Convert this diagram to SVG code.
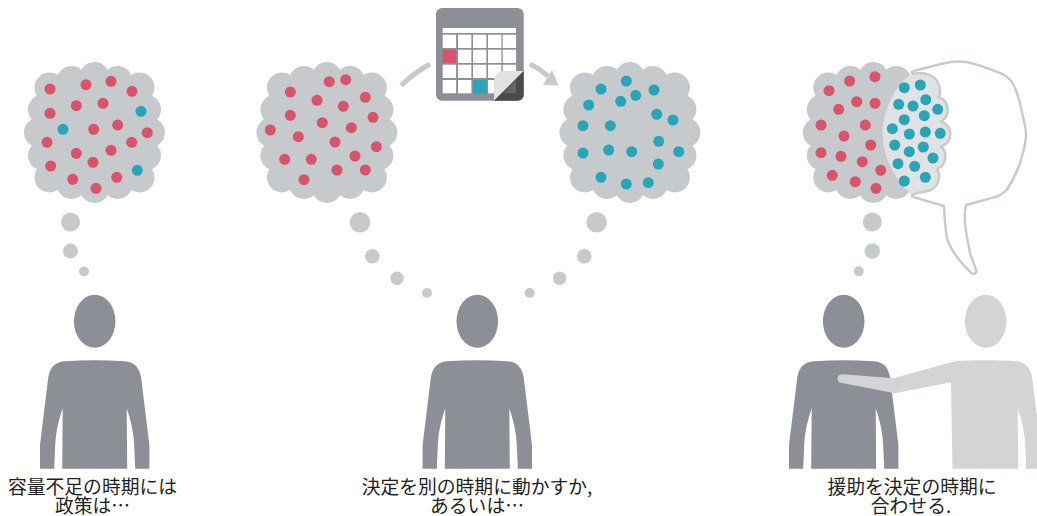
<svg xmlns="http://www.w3.org/2000/svg" xmlns:xlink="http://www.w3.org/1999/xlink" width="1037" height="516" viewBox="0 0 1037 516">
<style>
.c{fill:#c7cacc}
.r{fill:#d9536b}
.t{fill:#29a5b8}
.p{fill:#8c8f95}
.l{fill:#d2d4d6}
.w{fill:#fff}
.a{fill:none;stroke:#c7cacc;stroke-width:5}
.o{stroke:#c7cacc;stroke-width:2.4;stroke-linejoin:round}
text{font-family:"Noto Sans CJK JP","Noto Sans",sans-serif;font-size:18.8px;fill:#231f20;text-anchor:middle}
</style>
<defs>
<g id="cloud" class="c">
<circle r="52"/><circle cy="-55.5" r="15"/><circle cx="-23" cy="-51.5" r="15"/><circle cx="23" cy="-51.5" r="15"/><circle cx="-45" cy="-45" r="15"/><circle cx="45" cy="-45" r="15"/>
<circle cy="55.5" r="15"/><circle cx="-23" cy="51.5" r="15"/><circle cx="23" cy="51.5" r="15"/><circle cx="-45" cy="45" r="15"/><circle cx="45" cy="45" r="15"/>
<circle cx="-55.5" r="15"/><circle cx="-51.5" cy="-23" r="15"/><circle cx="-51.5" cy="23" r="15"/>
<circle cx="55.5" r="15"/><circle cx="51.5" cy="-23" r="15"/><circle cx="51.5" cy="23" r="15"/>
</g>
<g id="person">
<ellipse cy="321.3" rx="20.8" ry="26.5"/>
<path d="M-32.5 468.7L-32 408.3C-36 420-39 432-39.5 445L-40.5 468.7H-54.7V445L-46.5 378C-45 368-40 362-30 361.3C-10 360 10 360 30 361.3C40 362 45 368 46.5 378L54.7 445V468.7H40.5L39.500 445C39 432 36 420 32 408.300L32.500 468.700Z"/>
</g>
</defs>
<g id="connectors">
<path class="a" d="M401 85.5Q414 73 430 64"/>
<path class="a" d="M530 64Q540 69 548 76"/>
<polygon class="c" points="558.5,85.5 543,85 552,70"/>
<circle class="c" cx="70.5" cy="222" r="9.5"/><circle class="c" cx="70.5" cy="251" r="7.5"/><circle class="c" cx="84" cy="271.5" r="5"/>
<circle class="c" cx="360" cy="222.3" r="10.3"/><circle class="c" cx="372.3" cy="256.3" r="7.3"/><circle class="c" cx="397" cy="278.3" r="6.7"/><circle class="c" cx="427" cy="293" r="5"/>
<circle class="c" cx="596.7" cy="222.3" r="10.3"/><circle class="c" cx="584.3" cy="256.3" r="7.3"/><circle class="c" cx="559.7" cy="278.3" r="6.7"/><circle class="c" cx="529.7" cy="293" r="5"/>
<circle class="c" cx="872.3" cy="222" r="9.5"/><circle class="c" cx="872.3" cy="251" r="7.7"/><circle class="c" cx="858.7" cy="271.3" r="5"/>
</g>
<g id="cloud-1">
<use xlink:href="#cloud" href="#cloud" x="94.5" y="132.5"/>
<g class="r"><circle cx="50" cy="89" r="5.5"/><circle cx="86" cy="84.7" r="5.5"/><circle cx="111" cy="81.3" r="5.5"/><circle cx="132" cy="91.3" r="5.5"/><circle cx="76.3" cy="105.7" r="5.5"/><circle cx="103" cy="103.3" r="5.5"/><circle cx="50" cy="113.3" r="5.5"/><circle cx="93.7" cy="129.3" r="5.5"/><circle cx="117.7" cy="125" r="5.5"/><circle cx="147.3" cy="132.7" r="5.5"/><circle cx="47" cy="142.3" r="5.5"/><circle cx="131.7" cy="142.3" r="5.5"/><circle cx="111" cy="150.3" r="5.5"/><circle cx="76.3" cy="153.3" r="5.5"/><circle cx="93" cy="162.3" r="5.5"/><circle cx="50.7" cy="166" r="5.5"/><circle cx="72.7" cy="179.3" r="5.5"/><circle cx="116.7" cy="177.3" r="5.5"/><circle cx="96" cy="188.3" r="5.5"/></g>
<g class="t"><circle cx="141" cy="111.3" r="5.5"/><circle cx="63" cy="129.3" r="5.5"/><circle cx="137.3" cy="170.3" r="5.5"/></g>
</g>
<g id="cloud-2">
<use xlink:href="#cloud" href="#cloud" x="326.9" y="132.5"/>
<g class="r"><circle cx="290.3" cy="92" r="5.5"/><circle cx="329.3" cy="81.7" r="5.5"/><circle cx="345.7" cy="79.7" r="5.5"/><circle cx="365.3" cy="97.3" r="5.5"/><circle cx="317" cy="100.3" r="5.5"/><circle cx="343.3" cy="106.3" r="5.5"/><circle cx="290.3" cy="115.3" r="5.5"/><circle cx="373" cy="117.3" r="5.5"/><circle cx="322.3" cy="122.7" r="5.5"/><circle cx="351.3" cy="127.7" r="5.5"/><circle cx="270.3" cy="130" r="5.5"/><circle cx="298.3" cy="136.7" r="5.5"/><circle cx="335" cy="142" r="5.5"/><circle cx="376.3" cy="146.7" r="5.5"/><circle cx="355" cy="156" r="5.5"/><circle cx="284.7" cy="159.3" r="5.5"/><circle cx="311.3" cy="159.3" r="5.5"/><circle cx="337" cy="170" r="5.5"/><circle cx="365.3" cy="170" r="5.5"/><circle cx="304" cy="179.7" r="5.5"/></g>
</g>
<g id="cloud-3">
<use xlink:href="#cloud" href="#cloud" x="629.9" y="132.5"/>
<g class="t"><circle cx="601" cy="89" r="5.5"/><circle cx="626.3" cy="81" r="5.5"/><circle cx="635.7" cy="95.3" r="5.5"/><circle cx="654" cy="90" r="5.5"/><circle cx="620.7" cy="101.3" r="5.5"/><circle cx="588.7" cy="105" r="5.5"/><circle cx="656.7" cy="114.3" r="5.5"/><circle cx="673" cy="120" r="5.5"/><circle cx="583" cy="125.7" r="5.5"/><circle cx="610.3" cy="125.7" r="5.5"/><circle cx="658.7" cy="141.3" r="5.5"/><circle cx="583" cy="153" r="5.5"/><circle cx="608.7" cy="150" r="5.5"/><circle cx="631.7" cy="151.7" r="5.5"/><circle cx="678.7" cy="151.7" r="5.5"/><circle cx="658.3" cy="164" r="5.5"/><circle cx="601" cy="177.3" r="5.5"/><circle cx="626.3" cy="184" r="5.5"/><circle cx="648.3" cy="182.7" r="5.5"/></g>
</g>
<g id="calendar">
<rect class="p" x="436" y="8" width="87.7" height="92.7" rx="6"/>
<g class="w"><rect x="442.7" y="28" width="73.3" height="5"/>
<rect x="442.7" y="34.7" width="13.4" height="13.3"/><rect x="458" y="34.7" width="13.4" height="13.3"/><rect x="473" y="34.7" width="13.4" height="13.3"/><rect x="488" y="34.7" width="13.4" height="13.3"/><rect x="502.7" y="34.7" width="13.4" height="13.3"/>
<rect x="458" y="49.7" width="13.4" height="13.3"/><rect x="473" y="49.7" width="13.4" height="13.3"/><rect x="488" y="49.7" width="13.4" height="13.3"/><rect x="502.7" y="49.7" width="13.4" height="13.3"/>
<rect x="442.7" y="64.7" width="13.4" height="13.3"/><rect x="458" y="64.7" width="13.4" height="13.3"/><rect x="473" y="64.7" width="13.4" height="13.3"/><rect x="488" y="64.7" width="13.4" height="13.3"/><rect x="502.7" y="64.7" width="13.4" height="13.3"/>
<rect x="442.7" y="80" width="13.4" height="13.3"/><rect x="458" y="80" width="13.4" height="13.3"/><rect x="488" y="80" width="13.4" height="13.3"/><rect x="502.7" y="80" width="13.4" height="13.3"/></g>
<rect class="r" x="442.7" y="49.7" width="13.4" height="13.3"/>
<rect class="t" x="473" y="80" width="13.4" height="13.3"/>
<path fill="#e1e2e3" d="M494 100.7V82Q494 71 505 71H523.7Z"/>
<path fill="#4a4a48" d="M494 100.7L523.7 71V94Q523.7 100.7 517 100.7Z"/>
<path fill="#6b6562" d="M503.5 93.3L516 80.5V93.3Z"/>
</g>
<g id="balloon">
<path class="o" fill="#fff" d="M912 71.7C925 68 935 65 946.7 62.7C953 61.5 960 61 966.7 62C977 64 987 68 996.7 71.7C1003 74 1008 77 1011.7 81.7C1016 88 1018 96 1020 103C1022 113 1025 123 1026 133C1026.500 143 1023 153 1020 163C1017 172 1012 182 1006.700 190C1003 193 1000 195.500 996.700 196.700L966 205C964.500 211 964.500 217 965 223C966 233 968 243 970 253C972 260 975 266 976.700 271.700C976 274 973 274 971.700 273.300C966 268 961 262 956.700 256.700C952 250 948 243 946.700 236.700C945 226 944.500 216 944 206L912 196.700Z"/>
</g>
<g id="cloud-4">
<use xlink:href="#cloud" href="#cloud" x="873.3" y="132.5"/>
<path class="o" fill="#e0e2e3" d="M912 73.500C920 73 938 71 940 90C940.300 93 940 95 938.500 97A13.500 13.500 0 0 1 941 121.500A13 13 0 0 1 941 146.500A13.500 13.500 0 0 1 937 169C941 175 940 190 925 191.500C920 192 915 193.500 912 195"/>
<path fill="#e0e2e3" d="M912 73.500C895 85 883 110 882.700 133C882 155 895 180 912 195Z"/>
<g class="r"><circle cx="829" cy="90.700" r="5.500"/><circle cx="849.700" cy="81" r="5.500"/><circle cx="875" cy="76.700" r="5.500"/><circle cx="856.700" cy="101.700" r="5.500"/><circle cx="875" cy="103.300" r="5.500"/><circle cx="838.700" cy="109.300" r="5.500"/><circle cx="821" cy="125" r="5.500"/><circle cx="865.300" cy="125" r="5.500"/><circle cx="844" cy="136" r="5.500"/><circle cx="870.700" cy="145" r="5.500"/><circle cx="821" cy="152.700" r="5.500"/><circle cx="841" cy="156.300" r="5.500"/><circle cx="862.300" cy="161.700" r="5.500"/><circle cx="880.700" cy="170.300" r="5.500"/><circle cx="832.300" cy="175.300" r="5.500"/><circle cx="855.300" cy="181.700" r="5.500"/><circle cx="876" cy="188.300" r="5.500"/></g>
<g class="t"><circle cx="904.300" cy="87.700" r="5.500"/><circle cx="920.300" cy="85" r="5.500"/><circle cx="925.700" cy="99.700" r="5.500"/><circle cx="898.700" cy="104.300" r="5.500"/><circle cx="913" cy="106" r="5.500"/><circle cx="937.700" cy="109.300" r="5.500"/><circle cx="924.300" cy="115.700" r="5.500"/><circle cx="904.300" cy="119.700" r="5.500"/><circle cx="892.300" cy="128.700" r="5.500"/><circle cx="909.300" cy="134" r="5.500"/><circle cx="925.300" cy="132" r="5.500"/><circle cx="940.300" cy="133.300" r="5.500"/><circle cx="894.700" cy="145" r="5.500"/><circle cx="923.300" cy="147" r="5.500"/><circle cx="909.300" cy="151.700" r="5.500"/><circle cx="933" cy="158" r="5.500"/><circle cx="898" cy="163.700" r="5.500"/><circle cx="914.700" cy="166.300" r="5.500"/><circle cx="925.300" cy="177.300" r="5.500"/><circle cx="904.300" cy="181" r="5.500"/></g>
</g>
<g id="person-1" class="p"><use xlink:href="#person" href="#person" x="94.700"/></g>
<g id="person-2" class="p"><use xlink:href="#person" href="#person" x="477.300"/></g>
<g id="person-3" class="p"><use xlink:href="#person" href="#person" x="843.700"/></g>
<g id="person-4" class="l">
<ellipse cx="985.700" cy="321.300" rx="20.800" ry="26.500"/>
<path d="M952.500 468.700L951 382.300L895 393.300L840.500 382.700C836 381.500 836.500 374 843 374.300L893.300 378.300L955 361.300C965 360 1005 360 1015.700 361.300C1025.700 362 1030.700 368 1032.200 378L1040.400 445V468.700H1026.200L1025.200 445C1024.700 432 1021.700 420 1017.700 408.300L1018.200 468.700Z"/>
</g>
<g id="label-1"><text x="92.500" y="494">容量不足の時期には</text><text x="92.500" y="513">政策は…</text></g>
<g id="label-2"><text x="477" y="494">決定を別の時期に動かすか,</text><text x="477" y="513">あるいは…</text></g>
<g id="label-3"><text x="912" y="494">援助を決定の時期に</text><text x="911" y="513">合わせる.</text></g>
</svg>
